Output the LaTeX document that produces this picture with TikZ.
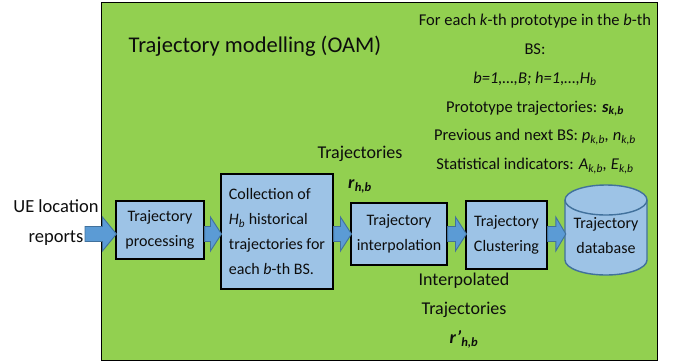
\documentclass[tikz,border=0pt]{standalone}
\usepackage{fontspec}
\setmainfont{Carlito}
\usetikzlibrary{calc}
\definecolor{oamgreen}{HTML}{92D050}
\definecolor{boxblue}{HTML}{9DC3E6}
\definecolor{arrblue}{HTML}{5B9BD5}
\definecolor{arredge}{HTML}{41719C}
\definecolor{txt}{HTML}{0D0D0D}
\newcommand\blockarrow[3]{%
  \filldraw[arrstyle] ($(#1 |- axis)+(0,-7.5)$) -- ($(#2 |- axis)+(-#3,-7.5)$) -- ($(#2 |- axis)+(-#3,-17)$) -- ($(#2 |- axis)+(1,0)$) -- ($(#2 |- axis)+(-#3,17)$) -- ($(#2 |- axis)+(-#3,7.5)$) -- ($(#1 |- axis)+(0,7.5)$) -- cycle;}
\begin{document}
\begin{tikzpicture}[x=1pt,y=-1pt,
  stepbox/.style={draw=black, line width=1.1pt, fill=boxblue, inner sep=0pt, text=txt, font=\fontsize{16}{25}\selectfont},
  lab/.style={text=txt, inner sep=0pt},
  arrstyle/.style={fill=arrblue, draw=arredge, line width=0.9pt, line join=miter}]
\useasboundingbox (0,0) rectangle (676,362);
\node[draw=black, line width=1.3pt, fill=oamgreen, minimum width=556pt, minimum height=358pt, anchor=north west, inner sep=0pt] (oam) at (101,2) {};
\coordinate (axis) at (0,234);
\coordinate (ue0) at (85,234);

\node[lab, font=\fontsize{22.5}{26}\selectfont] (title) at (255,46) {Trajectory modelling (OAM)};

\node[lab, align=center, font=\fontsize{16.5}{28.7}\selectfont] (info) at (535,94) {%
For each \textit{k}-th prototype in the \textit{b}-th\\
BS:\\
\textit{b=1,…,B; h=1,…,H}\textsubscript{\textit{b}}\\
Prototype trajectories: \textbf{\textit{s}}\textsubscript{\textbf{\textit{k,b}}}\\
Previous and next BS: \textit{p}\textsubscript{\textit{k,b}}\textit{,} \textit{n}\textsubscript{\textit{k,b}}\\
Statistical indicators: \textit{A}\textsubscript{\textit{k,b}}\textit{,} \textit{E}\textsubscript{\textit{k,b}}};

\node[lab, align=center, font=\fontsize{18.5}{30}\selectfont] (ue) at (56,223) {UE location\\reports};

\node[lab, align=center, font=\fontsize{18}{30}\selectfont] (traj) at (360,170) {Trajectories\\\textbf{\textit{r}}\textsubscript{\textbf{\textit{h,b}}}};

\node[lab, align=center, font=\fontsize{18}{29}\selectfont] (itraj) at (464,311) {Interpolated\\Trajectories\\\textbf{\textit{r’}}\textsubscript{\textbf{\textit{h,b}}}};

\node[stepbox, minimum width=88pt, minimum height=58pt, align=center] (proc) at (160,230) {Trajectory\\processing};
\node[stepbox, minimum width=112pt, minimum height=115pt, align=left] (coll) at (277,231.5) {Collection of\\\textit{H}\textsubscript{\textit{b}} historical\\trajectories for\\each \textit{b}-th BS.};
\node[stepbox, minimum width=96pt, minimum height=62pt, align=center] (interp) at (399,234) {Trajectory\\interpolation};
\node[stepbox, minimum width=81pt, minimum height=68pt, align=center] (clust) at (506.5,235) {Trajectory\\Clustering};

% cylinder
\filldraw[fill=boxblue, draw=arredge, line width=1.4pt]
  (565,200) -- (565,260) .. controls (565,268.28) and (583.36,275) .. (606,275)
  .. controls (628.64,275) and (647,268.28) .. (647,260) -- (647,200)
  .. controls (647,191.72) and (628.64,185) .. (606,185)
  .. controls (583.36,185) and (565,191.72) .. (565,200) -- cycle;
\draw[draw=arredge, line width=1.4pt]
  (565,200) .. controls (565,208.28) and (583.36,215) .. (606,215)
  .. controls (628.64,215) and (647,208.28) .. (647,200);
\node[lab, minimum width=82pt, minimum height=90pt, align=center, font=\fontsize{16}{25}\selectfont] (db) at (606,236) {Trajectory\\database};

\blockarrow{ue0}{proc.west}{13}
\blockarrow{proc.east}{coll.west}{10}
\blockarrow{coll.east}{interp.west}{10}
\blockarrow{interp.east}{clust.west}{10}
\blockarrow{clust.east}{db.west}{9}
\end{tikzpicture}
\end{document}
